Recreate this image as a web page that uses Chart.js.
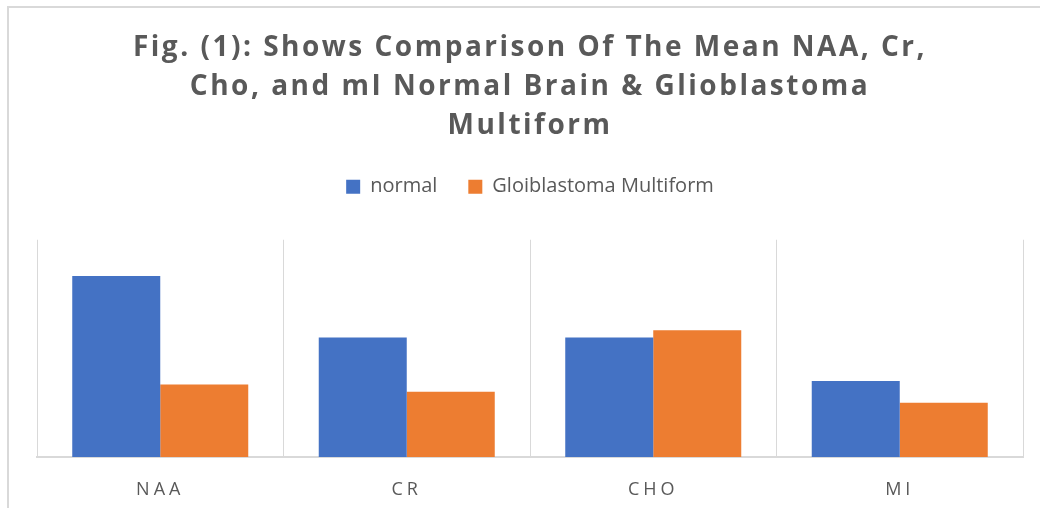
<!DOCTYPE html>
<html>
<head>
<meta charset="utf-8">
<script src="https://cdn.jsdelivr.net/npm/chart.js"></script>
<style>
  html, body { margin: 0; padding: 0; background: #fff; }
  #wrap { position: relative; width: 1040px; height: 508px; overflow: hidden; }
  #frame { position: absolute; left: 7px; top: 6px; width: 1100px; height: 600px;
           border-left: 2px solid #d9d9d9; border-top: 2px solid #d9d9d9; }
  #myChart { position: absolute; left: 0; top: 0; }
</style>
</head>
<body>
<div id="wrap">
  <div id="frame"></div>
  <canvas id="myChart" width="1040" height="508"></canvas>
</div>
<script>
    // 데이터
    const categories = ['NAA', 'CR', 'CHO', 'MI'];
    const normalValues = [10, 6.6, 6.6, 4.2];
    const gbmValues = [4.0, 3.6, 7.0, 3.0];
    const titleLines = [
        'Fig. (1): Shows Comparison Of The Mean NAA, Cr,',
        'Cho, and mI Normal Brain & Glioblastoma',
        'Multiform'
    ];

    const grey = '#595959';

    // 제목, x축 글자 자간 넓히기
    const spacing = {
        id: 'spacing',
        beforeDraw(chart) {
            const wrap = (obj, name, ls) => {
                if (!obj || obj['_ls_' + name]) return;
                const orig = obj[name].bind(obj);
                obj[name] = function (...args) {
                    const c = chart.ctx;
                    const prev = c.letterSpacing;
                    c.letterSpacing = ls;
                    orig(...args);
                    c.letterSpacing = prev;
                };
                obj['_ls_' + name] = true;
            };
            wrap(chart.titleBlock, 'draw', '2.5px');
            wrap(chart.scales.x, 'drawLabels', '4px');
        }
    };

    // 범례 아래 여백 (범례 높이 고정)
    const legendGap = {
        id: 'legendGap',
        beforeUpdate(chart) {
            const lg = chart.legend;
            if (!lg || lg._gapDone) return;
            const orig = lg.fit.bind(lg);
            lg.fit = function () {
                orig();
                this.height = 94;
            };
            lg._gapDone = true;
        }
    };

    let ctx = document.getElementById('myChart');

    let config = {
        type: 'bar',
        data: {
            labels: categories,
            datasets: [
                {
                    label: 'normal',
                    data: normalValues,
                    backgroundColor: '#4472C4',
                    borderWidth: 0
                },
                {
                    label: 'Gloiblastoma Multiform',
                    data: gbmValues,
                    backgroundColor: '#ED7D31',
                    borderWidth: 0
                }
            ]
        },
        options: {
            responsive: false,
            animation: false,
            layout: {
                padding: { left: 37, right: 17, top: 0, bottom: 0 }
            },
            datasets: {
                bar: { categoryPercentage: 0.714, barPercentage: 1.0 }
            },
            plugins: {
                tooltip: { enabled: false },
                title: {
                    display: true,
                    text: titleLines,
                    color: grey,
                    font: { family: 'Open Sans', size: 28, weight: 'bold', lineHeight: 1.39 },
                    padding: { top: 29, bottom: 0 }
                },
                legend: {
                    position: 'top',
                    labels: {
                        color: grey,
                        font: { family: 'Open Sans', size: 20 },
                        boxWidth: 14,
                        boxHeight: 14,
                        padding: 31
                    }
                }
            },
            scales: {
                x: {
                    grid: {
                        display: true,
                        color: '#d9d9d9',
                        lineWidth: 1,
                        drawTicks: false,
                        offset: true
                    },
                    border: { display: true, color: '#d9d9d9', width: 2 },
                    ticks: {
                        color: grey,
                        font: { family: 'Open Sans', size: 18 },
                        padding: 22
                    },
                    afterFit(scale) {
                        scale.height = 51;
                    }
                },
                y: {
                    display: false,
                    min: 0,
                    max: 12
                }
            }
        },
        plugins: [spacing, legendGap]
    };

    let myChart = new Chart(ctx, config);
</script>
</body>
</html>
